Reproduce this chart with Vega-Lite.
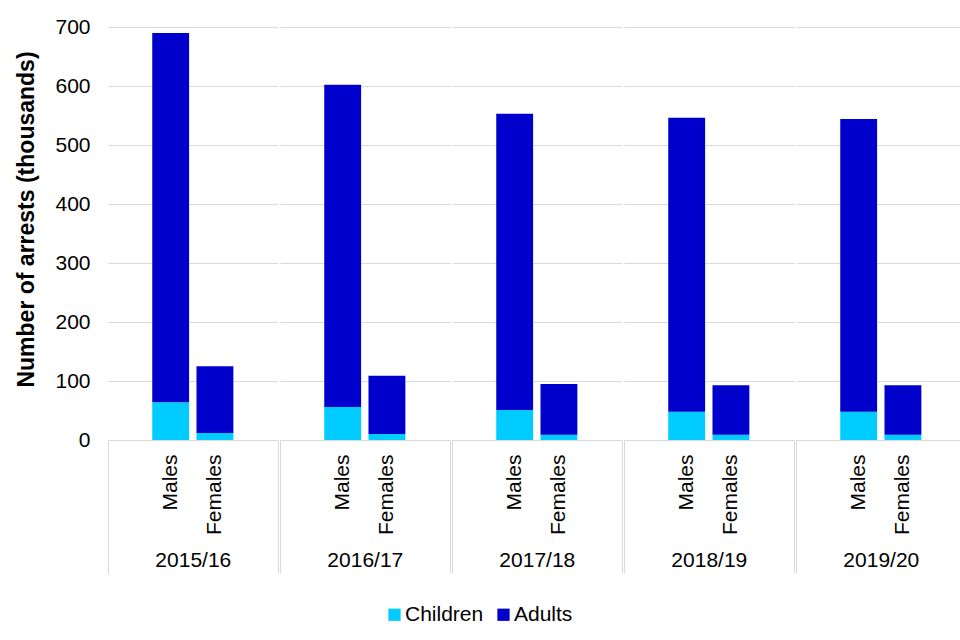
{
  "$schema": "https://vega.github.io/schema/vega-lite/v6.json",
  "padding": {"left": 15, "top": 16, "right": 2, "bottom": 5},
  "data": {"values": [
    {"year": "2015/16", "sex": "Males", "age": "Children", "value": 64},
    {"year": "2015/16", "sex": "Males", "age": "Adults", "value": 626},
    {"year": "2015/16", "sex": "Females", "age": "Children", "value": 12},
    {"year": "2015/16", "sex": "Females", "age": "Adults", "value": 113},
    {"year": "2016/17", "sex": "Males", "age": "Children", "value": 56},
    {"year": "2016/17", "sex": "Males", "age": "Adults", "value": 546},
    {"year": "2016/17", "sex": "Females", "age": "Children", "value": 10},
    {"year": "2016/17", "sex": "Females", "age": "Adults", "value": 99},
    {"year": "2017/18", "sex": "Males", "age": "Children", "value": 51},
    {"year": "2017/18", "sex": "Males", "age": "Adults", "value": 502},
    {"year": "2017/18", "sex": "Females", "age": "Children", "value": 9},
    {"year": "2017/18", "sex": "Females", "age": "Adults", "value": 86},
    {"year": "2018/19", "sex": "Males", "age": "Children", "value": 48},
    {"year": "2018/19", "sex": "Males", "age": "Adults", "value": 498},
    {"year": "2018/19", "sex": "Females", "age": "Children", "value": 9},
    {"year": "2018/19", "sex": "Females", "age": "Adults", "value": 84},
    {"year": "2019/20", "sex": "Males", "age": "Children", "value": 48},
    {"year": "2019/20", "sex": "Males", "age": "Adults", "value": 496},
    {"year": "2019/20", "sex": "Females", "age": "Children", "value": 9},
    {"year": "2019/20", "sex": "Females", "age": "Adults", "value": 84}
  ]},
  "facet": {"column": {"field": "year", "type": "nominal", "header": {"title": null, "labels": false}}},
  "spacing": 0,
  "spec": {
    "width": 169.6,
    "height": 413,
    "layer": [
      {
        "mark": {"type": "bar"},
        "encoding": {
          "x": {"field": "sex", "type": "nominal", "sort": ["Males", "Females"],
                "scale": {"paddingInner": 0.1667, "paddingOuter": 1.1025},
                "axis": {"orient": "bottom", "title": null, "labelAngle": -90, "ticks": false, "tickSize": 0, "domain": false, "grid": false, "labelPadding": 14, "labelFontSize": 21, "labelColor": "#000000"}},
          "y": {"field": "value", "type": "quantitative", "stack": "zero",
                "scale": {"domain": [0, 700], "nice": false},
                "axis": {"title": "Number of arrests (thousands)", "values": [0, 100, 200, 300, 400, 500, 600, 700], "ticks": false, "tickSize": 0, "domain": false, "grid": true, "gridColor": "#d9d9d9", "labelPadding": 17, "labelFontSize": 21, "labelColor": "#000000", "titleFontSize": 23, "titleFontWeight": "bold", "titleColor": "#000000", "titlePadding": 16, "titleY": 192}},
          "color": {"field": "age", "type": "nominal",
                    "scale": {"domain": ["Children", "Adults"], "range": ["#00CCFF", "#0000CC"]},
                    "legend": {"orient": "none", "legendX": 276, "legendY": 577, "direction": "horizontal", "title": null, "symbolType": "square", "symbolSize": 150, "symbolStrokeWidth": 0, "labelFontSize": 21, "labelColor": "#000000", "labelOffset": 0, "columnPadding": 9}},
          "order": {"field": "age", "sort": "descending"}
        }
      },
      {
        "mark": {"type": "point", "opacity": 0},
        "encoding": {
          "x": {"field": "year", "type": "nominal",
                "scale": {"type": "band", "paddingInner": 0, "paddingOuter": 0},
                "axis": {"orient": "bottom", "title": null, "tickBand": "extent", "tickSize": 133, "tickColor": "#d9d9d9", "domain": false, "grid": false, "labelAngle": 0, "labelPadding": -24, "labelBaseline": "top", "labelFontSize": 21, "labelColor": "#000000"}}
        }
      }
    ],
    "resolve": {"scale": {"x": "independent"}, "axis": {"x": "independent"}}
  },
  "resolve": {"scale": {"x": "independent"}},
  "config": {"view": {"stroke": null}, "font": "Liberation Sans", "background": "white"}
}
